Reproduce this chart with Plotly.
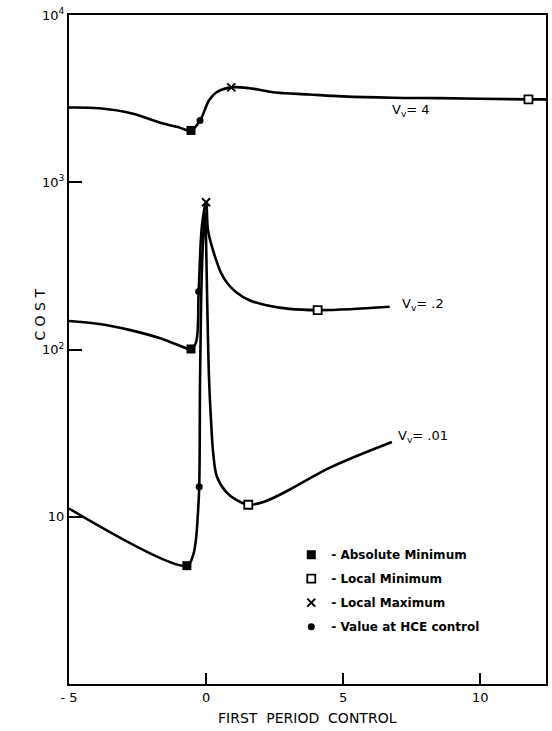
import math
import plotly.graph_objects as go

# ---- data ----
v4_x = [-5.0, -3.9, -2.7, -1.7, -1.0, -0.55, -0.22, 0.11, 0.37, 0.92, 1.58, 2.53, 3.74, 4.98, 6.81, 8.5, 11.76, 12.4]
v4_y = [2800, 2770, 2580, 2280, 2130, 2040, 2340, 3090, 3440, 3690, 3650, 3440, 3350, 3260, 3200, 3185, 3130, 3130]

v2_x = [-5.0, -3.9, -2.8, -1.7, -1.0, -0.55, -0.37, -0.27, -0.15, 0.0, 0.07, 0.22, 0.37, 0.55,
        0.77, 1.10, 1.58, 2.20, 3.04, 4.07, 5.24, 6.7]
v2_y = [148, 142, 131, 117, 106, 100.7, 110, 222, 550, 760, 516, 409, 342, 286,
        250, 220, 197, 184, 175, 172, 174, 180]

v01_x = [-5.0, -0.7, -0.48, -0.37, -0.3, -0.25, -0.22, -0.18, -0.11, -0.04, 0.0, 0.04, 0.11,
         0.18, 0.26, 0.40, 0.73, 1.10, 1.54, 2.12, 3.04, 4.5, 6.78]
v01_y = [11.2, 5.1, 5.85, 7.3, 10.3, 15.1, 66, 198, 450, 660, 450, 198, 66,
         38, 24, 17.3, 14.1, 12.6, 11.8, 12.3, 14.5, 19.6, 28]

# special points
abs_min_x = [-0.55, -0.55, -0.7]
abs_min_y = [2040, 100.7, 5.1]
loc_min_x = [11.76, 4.07, 1.54]
loc_min_y = [3130, 172, 11.8]
loc_max_x = [0.92, 0.0]
loc_max_y = [3690, 760]
hce_x = [-0.22, -0.27, -0.25]
hce_y = [2340, 222, 15.1]

curve_labels = ["V<sub>v</sub>= 4", "V<sub>v</sub>= .2", "V<sub>v</sub>= .01"]
label_x = [6.7, 7.07, 6.92]
label_y = [2690, 185, 30]

y_tickvals = [10, 100, 1000, 10000]
y_ticktext = ["10", "10<sup>2</sup>", "10<sup>3</sup>", "10<sup>4</sup>"]
x_tickvals = [-5, 0, 5, 10]
x_ticktext = ["- 5", "0", "5", "10"]

FONT = "DejaVu Sans"
fig = go.Figure()

for xs, ys in [(v4_x, v4_y), (v2_x, v2_y), (v01_x, v01_y)]:
    fig.add_trace(go.Scatter(x=xs, y=ys, mode="lines",
                             line=dict(color="black", width=2.6, shape="spline", smoothing=1.0),
                             showlegend=False, hoverinfo="skip"))

fig.add_trace(go.Scatter(x=abs_min_x, y=abs_min_y, mode="markers", name="- Absolute Minimum",
                         marker=dict(symbol="square", size=9, color="black"), legendgroup="a"))
fig.add_trace(go.Scatter(x=loc_min_x, y=loc_min_y, mode="markers", name="- Local Minimum",
                         marker=dict(symbol="square", size=8, color="white",
                                     line=dict(color="black", width=1.8)), legendgroup="b"))
fig.add_trace(go.Scatter(x=loc_max_x, y=loc_max_y, mode="markers", name="- Local Maximum",
                         marker=dict(symbol="x-thin", size=8, color="black",
                                     line=dict(color="black", width=2)), legendgroup="c"))
fig.add_trace(go.Scatter(x=hce_x, y=hce_y, mode="markers", name="- Value at HCE control",
                         marker=dict(symbol="circle", size=7, color="black"), legendgroup="d"))

for t, lx, ly in zip(curve_labels, label_x, label_y):
    fig.add_annotation(x=lx, y=math.log10(ly), yref="y", xref="x", text=t, showarrow=False,
                       xanchor="left", yanchor="middle",
                       font=dict(family=FONT, size=13, color="black"))

fig.add_annotation(text="C O S T", xref="paper", yref="paper", x=-0.061, y=0.552,
                   textangle=-90, showarrow=False, xanchor="center", yanchor="middle",
                   font=dict(family=FONT, size=14, color="black"))
fig.add_annotation(text="FIRST  PERIOD  CONTROL", xref="paper", yref="paper", x=0.5, y=-0.051,
                   showarrow=False, xanchor="center", yanchor="middle",
                   font=dict(family=FONT, size=14, color="black"))

fig.update_xaxes(range=[-5, 12.4], tickvals=x_tickvals, ticktext=x_ticktext,
                 ticks="inside", ticklen=11, tickwidth=1.5, tickcolor="black",
                 showline=True, linecolor="black", linewidth=2, mirror=True,
                 showgrid=False, zeroline=False, automargin=False,
                 tickfont=dict(family=FONT, size=13, color="black"))
fig.update_yaxes(type="log", range=[0, 4], tickvals=y_tickvals, ticktext=y_ticktext,
                 ticks="inside", ticklen=13, tickwidth=1.5, tickcolor="black",
                 showline=True, linecolor="black", linewidth=2, mirror=True,
                 showgrid=False, zeroline=False, automargin=False,
                 tickfont=dict(family=FONT, size=13, color="black"))

fig.update_layout(width=552, height=731, margin=dict(l=69, r=6, t=15, b=47),
                  plot_bgcolor="white", paper_bgcolor="white",
                  legend=dict(x=0.466, y=0.215, xanchor="left", yanchor="top",
                              bgcolor="rgba(0,0,0,0)", tracegroupgap=5,
                              font=dict(family=FONT, size=12, color="black", weight="bold"),
                              itemwidth=30),
                  showlegend=True)

fig.write_html("out.html", config={"displayModeBar": False},
               post_script="document.body.style.margin='0';document.body.style.overflow='hidden';")
